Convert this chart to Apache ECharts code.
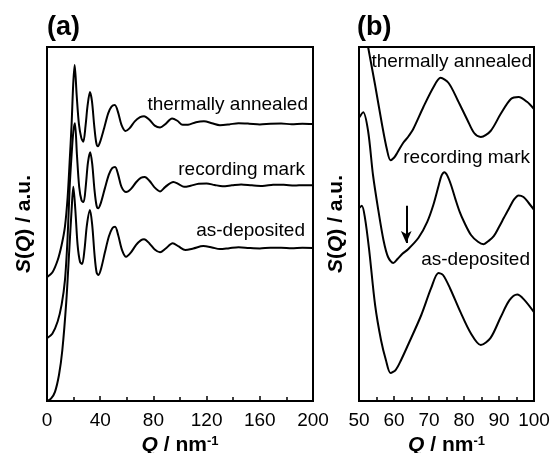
<!DOCTYPE html>
<html>
<head>
<meta charset="utf-8">
<script src="https://cdn.jsdelivr.net/npm/echarts@6/dist/echarts.min.js"></script>
<style>
  html, body { margin: 0; padding: 0; background: #fff; }
  #main { width: 558px; height: 453px; }
</style>
</head>
<body>
<div id="main"></div>
<script>
// S(Q): [Q / nm^-1, S]
var annealedA = [[0,0],[4,0.03],[8,0.11],[11,0.21],[13.5,0.33],[15.5,0.52],[17,0.75],[18.5,1.0],[19.7,1.26],[20.8,1.386],
  [22.3,1.19],[24,1.0],[25.8,0.91],[27.3,0.885],[29,0.99],[30.5,1.12],[32.3,1.21],[33.8,1.15],[35.5,0.99],[37,0.88],[38.3,0.855],
  [40,0.885],[43,0.975],[46,1.07],[48.5,1.115],[51,1.125],[53.5,1.075],[56,0.995],[59,0.955],[62,0.972],[66,1.018],[70,1.045],
  [73,1.052],[77,1.028],[81,0.99],[85,0.978],[89,1.0],[94,1.037],[98,1.022],[102,0.995],[106,0.996],[112,1.012],[118,1.018],
  [124,1.006],[130,0.993],[137,0.998],[144,1.006],[152,1.003],[160,0.998],[168,1.002],[176,1.004],[184,0.999],[192,1.002],[200,1.0]];
var recordingA = [[0,0],[4,0.03],[8,0.11],[11,0.22],[13.5,0.38],[15.5,0.66],[17,0.98],[18.5,1.2],[19.8,1.35],[21,1.405],
  [22.5,1.2],[24.2,0.99],[26,0.9],[27.5,0.89],[29.2,1.0],[30.8,1.15],[32.5,1.216],[34,1.14],[35.7,0.97],[37.2,0.87],[38.5,0.85],
  [40.5,0.885],[43.5,0.98],[46.5,1.07],[49,1.112],[51.2,1.12],[53.5,1.07],[56,0.99],[59.5,0.956],[63,0.975],[67,1.02],[70.5,1.048],
  [73.5,1.054],[77,1.03],[81,0.985],[85,0.96],[89,0.99],[95,1.022],[99,1.008],[103,0.99],[108,0.997],[114,1.01],[120,1.012],
  [126,1.002],[132,0.994],[139,1.0],[146,1.006],[154,1.0],[162,0.996],[170,1.003],[178,1.004],[186,0.998],[193,1.001],[200,1.0]];
var depositedA = [[0,0],[3,0.015],[6,0.06],[9,0.17],[11.5,0.33],[14.5,0.65],[16.7,0.98],[18.5,1.25],[19.8,1.40],
  [21.3,1.25],[23,1.02],[24.8,0.91],[26.4,0.895],[28.2,0.99],[30,1.15],[32.3,1.248],[34,1.15],[35.8,0.95],[37.3,0.84],[38.7,0.824],
  [40.8,0.87],[43.5,0.97],[46.5,1.075],[49,1.128],[51.2,1.139],[53.5,1.085],[56.5,0.985],[59.5,0.943],[63,0.97],[67,1.02],[70.5,1.05],
  [73,1.057],[77,1.03],[81,0.99],[85,0.972],[89,0.995],[94.5,1.031],[99,1.01],[104,0.987],[110,0.997],[117.5,1.013],[124,1.004],
  [130,0.993],[137,0.999],[144,1.005],[152,1.0],[160,0.997],[168,1.002],[176,1.002],[184,0.998],[192,1.001],[200,1.0]];

// same curves, 50-100 nm^-1
var annealedB = [[50,1.151],[51,1.1325],[52.6,1.0925],[54.6,1.045],[56.6,0.995],[58,0.964],[59,0.951],[60,0.954],[60.9,0.96],
  [62.6,0.9725],[64,0.98],[65.5,0.99],[68.4,1.0175],[71.3,1.0425],[73.3,1.054],[75.6,1.0475],[78.2,1.026],[81,1.001],
  [82.9,0.985],[84.8,0.98],[87.6,0.9875],[90.5,1.009],[93.4,1.0275],[95.6,1.03],[98,1.024],[100,1.015]];
var recordingB = [[50,1.134],[51.2,1.141],[52.6,1.1175],[54,1.0625],[55.5,1.019],[57,0.981],[58.3,0.96],[59.8,0.9525],
  [61,0.9575],[62.4,0.964],[64.1,0.97],[67,0.984],[69.5,1.004],[71.3,1.026],[72.8,1.05],[73.6,1.062],[74.4,1.066],[75.2,1.062],
  [76.3,1.05],[77.5,1.033],[78.8,1.016],[80,1.004],[82,0.9875],[84,0.979],[85.6,0.976],[87,0.98],[88.5,0.986],[90,0.9975],
  [91.4,1.009],[93,1.022],[94.3,1.032],[95.6,1.037],[97,1.035],[98.5,1.0275],[100,1.019]];
var depositedB = [[50,1.141],[50.8,1.144],[51.7,1.129],[52.9,1.089],[54.6,1.02],[56.3,0.976],[57.7,0.951],[59,0.935],
  [60.5,0.939],[62,0.951],[64,0.97],[67.8,1.0075],[70.6,1.041],[72.7,1.06],[74,1.0575],[76,1.041],[79,1.011],[81.9,0.985],
  [84.8,0.97],[87.6,0.979],[90.5,1.005],[93,1.026],[95.2,1.033],[97.1,1.027],[100,1.011]];

// vertical shifts between stacked curves: [as-deposited, recording mark, thermally annealed]
var offsetsA = [0, 0.41, 0.81];
var offsetsB = [0, 0.12, 0.25];
var curveNames = ['as-deposited', 'recording mark', 'thermally annealed'];

// arrow in panel (b): Q, from S, to S
var arrowB = [63.5, 1.144, 1.0975];

var FONT = 'Liberation Sans';
var myChart = echarts.init(document.getElementById('main'));

function shift(arr, off) {
  return arr.map(function (p) { return [p[0], p[1] + off]; });
}

function curve(name, data, gi, extra) {
  var s = {
    name: name, type: 'line', xAxisIndex: gi, yAxisIndex: gi, data: data,
    showSymbol: false, smooth: 0.3, clip: true, silent: true,
    lineStyle: { color: '#000', width: 2 }
  };
  if (extra) Object.assign(s, extra);
  return s;
}

function xAx(gi, min, max, step) {
  return {
    type: 'value', gridIndex: gi, min: min, max: max, interval: step,
    axisLine: { show: false },
    axisTick: { show: true, inside: true, length: 5, lineStyle: { color: '#000', width: 1.5 } },
    minorTick: { show: true, splitNumber: 2, length: 4, lineStyle: { color: '#000', width: 1.5 } },
    splitLine: { show: false },
    axisLabel: { color: '#000', fontSize: 19, fontFamily: FONT, margin: 10 },
    name: '{q|Q}{t| / nm}{s|-1}', nameLocation: 'middle', nameGap: 24,
    nameTextStyle: {
      rich: {
        q: { fontFamily: FONT, fontSize: 21, fontWeight: 'bold', fontStyle: 'italic', color: '#000' },
        t: { fontFamily: FONT, fontSize: 21, fontWeight: 'bold', color: '#000' },
        s: { fontFamily: FONT, fontSize: 13, fontWeight: 'bold', color: '#000', verticalAlign: 'top' }
      }
    }
  };
}

function yAx(gi, min, max) {
  return {
    type: 'value', gridIndex: gi, min: min, max: max,
    axisLine: { show: false }, axisTick: { show: false }, axisLabel: { show: false }, splitLine: { show: false },
    name: '{i|S}{t|(}{i|Q}{t|) / a.u.}', nameLocation: 'middle', nameRotate: 90, nameGap: 12,
    nameTextStyle: {
      rich: {
        i: { fontFamily: FONT, fontSize: 21, fontWeight: 'bold', fontStyle: 'italic', color: '#000' },
        t: { fontFamily: FONT, fontSize: 21, fontWeight: 'bold', color: '#000' }
      }
    }
  };
}

function label(text, x, y, size, bold, align) {
  return {
    type: 'text', x: x, y: y, silent: true,
    style: {
      text: text, fill: '#000', font: (bold ? 'bold ' : '') + size + 'px "' + FONT + '"',
      textAlign: align || 'right', textVerticalAlign: 'middle'
    }
  };
}

var option = {
  animation: false,
  backgroundColor: '#fff',
  grid: [
    { left: 47, top: 47, width: 266, height: 354, show: true, borderColor: '#000', borderWidth: 2, outerBoundsMode: 'none' },
    { left: 359, top: 47, width: 175, height: 354, show: true, borderColor: '#000', borderWidth: 2, outerBoundsMode: 'none' }
  ],
  xAxis: [xAx(0, 0, 200, 40), xAx(1, 50, 100, 10)],
  yAxis: [yAx(0, 0, 2.314), yAx(1, 0.9, 1.3425)],
  series: [
    curve(curveNames[0], shift(depositedA, offsetsA[0]), 0),
    curve(curveNames[1], shift(recordingA, offsetsA[1]), 0),
    curve(curveNames[2], shift(annealedA, offsetsA[2]), 0),
    curve(curveNames[0], shift(depositedB, offsetsB[0]), 1),
    curve(curveNames[1], shift(recordingB, offsetsB[1]), 1, {
      markLine: {
        silent: true, symbol: ['none', 'arrow'], symbolSize: [8, 12],
        label: { show: false },
        lineStyle: { color: '#000', width: 2, type: 'solid' },
        data: [[{ coord: [arrowB[0], arrowB[1]] }, { coord: [arrowB[0], arrowB[2]] }]]
      }
    }),
    curve(curveNames[2], shift(annealedB, offsetsB[2]), 1)
  ],
  graphic: [
    label('(a)', 47, 28, 27, true, 'left'),
    label('(b)', 357, 28, 27, true, 'left'),
    label(curveNames[2], 308, 105, 19),
    label(curveNames[1], 305, 170, 19),
    label(curveNames[0], 305, 231, 19),
    label(curveNames[2], 532, 62, 19),
    label(curveNames[1], 530, 158, 19),
    label(curveNames[0], 530, 260, 19)
  ]
};

myChart.setOption(option);
</script>
</body>
</html>
